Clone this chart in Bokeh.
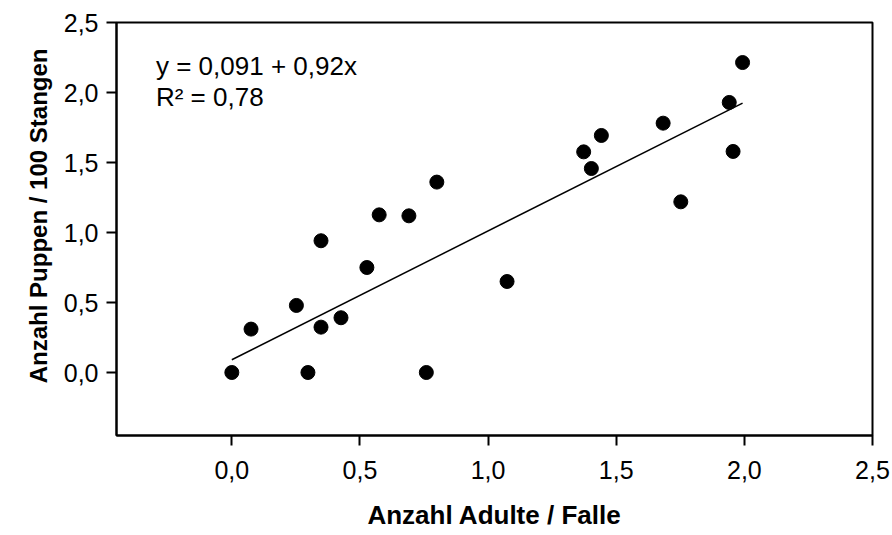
from bokeh.plotting import figure
from bokeh.models import FixedTicker, Label, Range1d, Title
from bokeh.embed import file_html
from bokeh.resources import INLINE

# Adults per trap vs. pupae per 100 poles
adulte = [0.0, 0.075, 0.252, 0.348, 0.348, 0.297, 0.426, 0.527, 0.575, 0.691,
          0.80, 0.759, 1.074, 1.373, 1.403, 1.442, 1.683, 1.752, 1.941, 1.956, 1.993]
puppen = [0.0, 0.31, 0.479, 0.941, 0.324, 0.0, 0.391, 0.75, 1.126, 1.119,
          1.36, 0.0, 0.65, 1.576, 1.457, 1.693, 1.781, 1.219, 1.929, 1.579, 2.214]

# Linear fit y = a + b x
fit_a = 0.091
fit_b = 0.92
r2 = 0.78

tick_values = [0.0, 0.5, 1.0, 1.5, 2.0, 2.5]
tick_labels = ["0,0", "0,5", "1,0", "1,5", "2,0", "2,5"]

x_title = "Anzahl Adulte / Falle"
y_title = "Anzahl Puppen / 100 Stangen"

FONT = "Liberation Sans"

p = figure(width=892, height=535, output_backend="svg", toolbar_location=None,
           x_range=Range1d(-0.45, 2.5), y_range=Range1d(-0.45, 2.5),
           min_border_left=116, min_border_right=20,
           min_border_top=22, min_border_bottom=100)

p.background_fill_color = "white"
p.border_fill_color = "white"
p.xgrid.visible = False
p.ygrid.visible = False
p.outline_line_color = "black"
p.outline_line_width = 2

labels = dict(zip(tick_values, tick_labels))
for ax in (p.xaxis[0], p.yaxis[0]):
    ax.ticker = FixedTicker(ticks=tick_values)
    ax.major_label_overrides = labels
    ax.minor_tick_line_color = None
    ax.major_tick_in = 0
    ax.major_tick_out = 10
    ax.major_tick_line_width = 2
    ax.axis_line_width = 2
    ax.major_label_text_font = FONT
    ax.major_label_text_font_size = "25px"
    ax.major_label_text_color = "black"

p.xaxis.axis_label = x_title
p.xaxis.axis_label_text_font = FONT
p.xaxis.axis_label_text_font_size = "26px"
p.xaxis.axis_label_text_font_style = "bold"
p.xaxis.axis_label_text_color = "black"
p.xaxis.major_label_standoff = 15
p.xaxis.axis_label_standoff = 18
p.yaxis.major_label_standoff = 8

# y-axis title as a side title, its end held a fixed distance below the frame top
p.add_layout(Title(text=y_title, align="right", offset=26, standoff=18,
                   text_font=FONT, text_font_size="24px",
                   text_font_style="bold", text_color="black"), "left")

# regression line across the observed range
x0, x1 = min(adulte), max(adulte)
p.line([x0, x1], [fit_a + fit_b * x0, fit_a + fit_b * x1],
       line_color="black", line_width=1.5)

p.scatter(adulte, puppen, size=14, marker="circle",
          fill_color="black", line_color="black")

eq_text = "y = " + f"{fit_a:.3f}".replace(".", ",") + " + " + f"{fit_b:.2f}".replace(".", ",") + "x"
r2_text = "R² = " + f"{r2:.2f}".replace(".", ",")
p.add_layout(Label(x=-0.296, y=2.08, text=eq_text, text_font=FONT,
                   text_font_size="26px", text_color="black"))
p.add_layout(Label(x=-0.296, y=1.864, text=r2_text, text_font=FONT,
                   text_font_size="26px", text_color="black"))

open("out.html", "w").write(file_html(p, INLINE))
